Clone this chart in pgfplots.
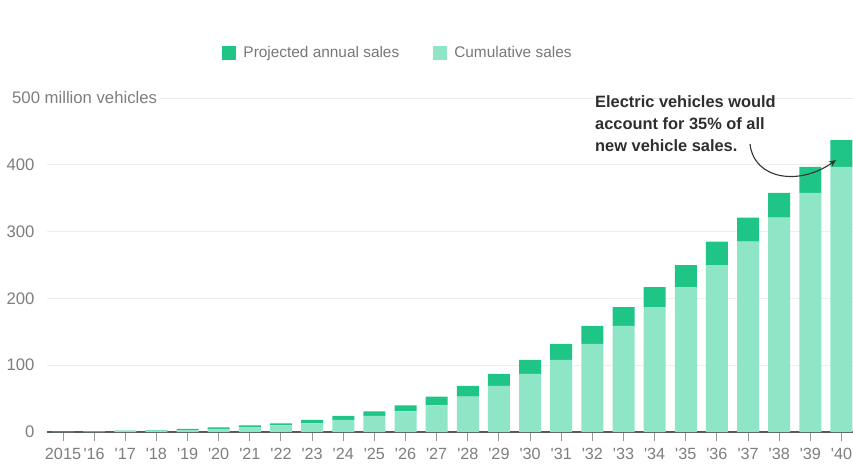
\documentclass[border=0pt]{standalone}
\usepackage{pgfplots}
\pgfplotsset{compat=1.18}
\usepackage{fontspec}
\setmainfont{Liberation Sans}
\usetikzlibrary{arrows.meta}
\definecolor{dk}{HTML}{1FC586}
\definecolor{lt}{HTML}{8FE6C6}
\definecolor{tickgray}{HTML}{7E7E7E}
\definecolor{leggray}{HTML}{777777}
\definecolor{gridgray}{HTML}{EEEEEE}
\newcommand{\q}{\textquotesingle}
\begin{document}
\begin{tikzpicture}[x=1pt,y=1pt]
\useasboundingbox (0,0) rectangle (853,-468);
\begin{axis}[
  at={(47pt,-432pt)}, anchor=south west,
  scale only axis, width=806pt, height=334pt,
  xmin=-0.514, xmax=25.37, ymin=0, ymax=500,
  enlargelimits=false, clip=false,
  ybar stacked, bar width=22pt,
  axis line style={draw=none},
  xtick={0,...,25},
  xticklabels={2015,\q16,\q17,\q18,\q19,\q20,\q21,\q22,\q23,\q24,\q25,\q26,\q27,\q28,\q29,\q30,\q31,\q32,\q33,\q34,\q35,\q36,\q37,\q38,\q39,\q40},
  xtick pos=bottom, tick align=outside,
  major tick length=9pt,
  x tick style={draw=tickgray!80, line width=1pt},
  ytick={0,100,200,300,400,500},
  yticklabels={0,100,200,300,400,{}},
  y tick style={draw=none},
  ytick pos=left,
  ymajorgrids, major grid style={draw=gridgray, line width=0.9pt},
  extra y ticks={0}, extra y tick labels={},
  extra y tick style={grid=major, major grid style={draw=black!65, line width=1.6pt}, tick style={draw=none}},
  ticklabel style={font=\fontsize{16.7}{20}\selectfont, text=tickgray},
  xticklabel style={yshift=-4pt, font=\fontsize{16.2}{20}\selectfont},
  legend style={at={(0.4355,1.135)}, anchor=center, draw=none, fill=none,
    legend columns=2, font=\fontsize{15.4}{18}\selectfont, text=leggray,
    /tikz/every even column/.append style={column sep=32pt}},
  reverse legend,
]
\addplot[fill=lt, draw=none, legend image code/.code={\fill[lt] (0pt,-7pt) rectangle (14pt,7pt); \path (19pt,0pt);}]
 coordinates {(0,0.3) (1,0.5) (2,1.2) (3,2.0) (4,3.0) (5,4.5) (6,7) (7,10) (8,13) (9,18) (10,24) (11,31) (12,40) (13,53) (14,69) (15,87) (16,108) (17,132) (18,159) (19,187) (20,217) (21,250) (22,285) (23,321) (24,358) (25,397)};
\addlegendentry{Cumulative sales}
\addplot[fill=dk, draw=none, legend image code/.code={\fill[dk] (0pt,-7pt) rectangle (14pt,7pt); \path (19pt,0pt);}]
 coordinates {(0,0.2) (1,0.7) (2,0.8) (3,1.0) (4,1.5) (5,2.5) (6,3) (7,3) (8,5) (9,6) (10,7) (11,9) (12,13) (13,16) (14,18) (15,21) (16,24) (17,27) (18,28) (19,30) (20,33) (21,35) (22,36) (23,37) (24,39) (25,40)};
\addlegendentry{Projected annual sales}
\node[anchor=west, xshift=-37pt, fill=white, inner sep=2pt, font=\fontsize{16.7}{20}\selectfont, text=tickgray] at (rel axis cs:0,1) {500 million vehicles};
\end{axis}
\node[anchor=north west, align=left, inner sep=0pt, font=\bfseries\fontsize{16.4}{22}\selectfont, text=black!82] at (595,-95.5) {Electric vehicles would\\account for 35\% of all\\new vehicle sales.};
\draw[-{Stealth[length=7pt,width=6pt]}, line width=1.1pt, black!80] (750,-144) .. controls (754,-180) and (800,-186) .. (836,-160);
\end{tikzpicture}
\end{document}
